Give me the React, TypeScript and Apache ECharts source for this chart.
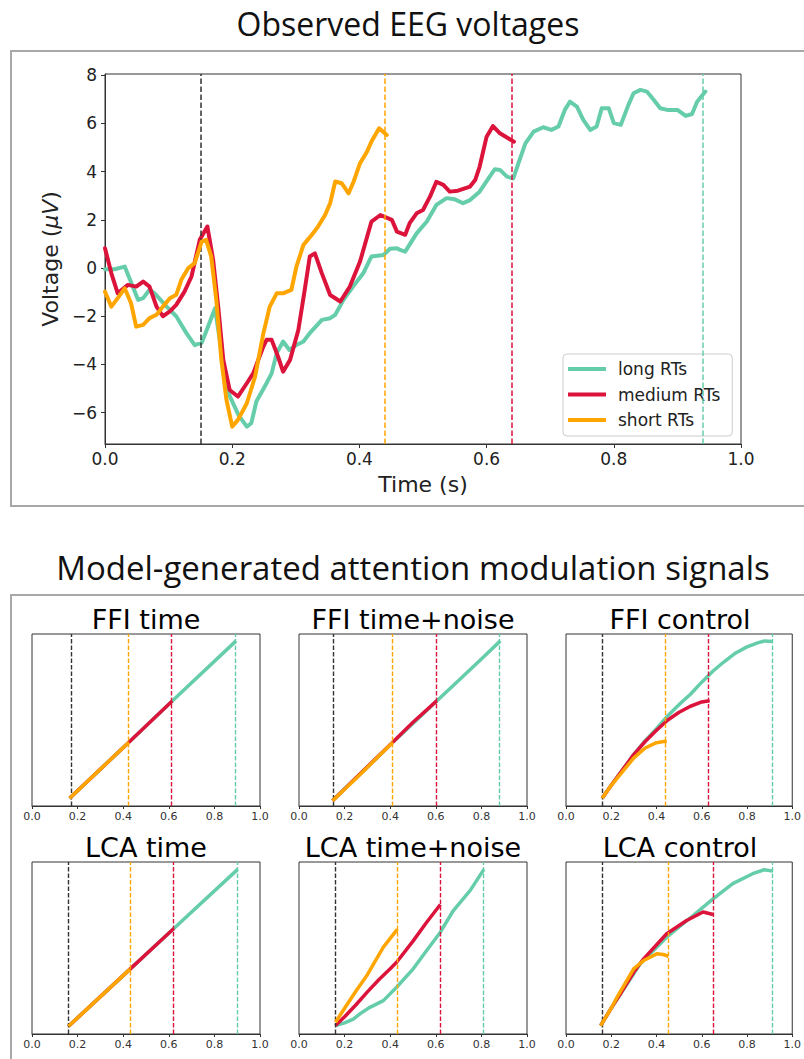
import React, { useEffect, useRef } from "react";
import * as echarts from "echarts";

// ---------- Colours ----------
const TEAL = "#66cdaa";
const RED = "#dc143c";
const ORANGE = "#ffa500";
const DARK = "#333333";

// ---------- Top chart: observed EEG voltages ----------
const seriesNames = ["long RTs", "medium RTs", "short RTs"];
const yTicks = [-6, -4, -2, 0, 2, 4, 6, 8];

const longRT: number[][] = [
  [0, -0.05], [0.015, -0.05], [0.031, 0.06], [0.052, -1.32], [0.06, -1.25], [0.07, -0.9],
  [0.078, -1.05], [0.097, -1.6], [0.112, -2.0], [0.128, -2.7], [0.141, -3.2], [0.152, -3.1],
  [0.16, -2.57], [0.173, -1.67], [0.185, -3.8], [0.196, -5.3], [0.21, -6.1], [0.223, -6.58],
  [0.23, -6.44], [0.238, -5.54], [0.254, -4.78], [0.262, -4.37], [0.27, -3.53], [0.28, -3.05],
  [0.29, -3.4], [0.301, -3.19], [0.312, -3.05], [0.322, -2.7], [0.341, -2.15], [0.354, -2.08],
  [0.362, -1.94], [0.375, -1.32], [0.39, -0.77], [0.406, -0.22], [0.419, 0.48], [0.438, 0.54],
  [0.448, 0.8], [0.459, 0.82], [0.464, 0.75], [0.472, 0.68], [0.49, 1.44], [0.506, 1.93],
  [0.521, 2.62], [0.537, 2.9], [0.55, 2.85], [0.563, 2.69], [0.574, 2.82], [0.589, 3.17],
  [0.603, 3.72], [0.613, 4.1], [0.621, 4.07], [0.632, 3.79], [0.642, 3.72], [0.65, 4.34],
  [0.661, 5.17], [0.674, 5.66], [0.689, 5.84], [0.702, 5.73], [0.713, 5.87], [0.723, 6.56],
  [0.731, 6.9], [0.742, 6.7], [0.752, 6.15], [0.763, 5.73], [0.773, 5.87], [0.781, 6.63],
  [0.792, 6.63], [0.8, 6.01], [0.811, 5.94], [0.823, 6.77], [0.831, 7.25], [0.842, 7.39],
  [0.852, 7.32], [0.863, 6.97], [0.873, 6.63], [0.884, 6.56], [0.9, 6.56], [0.913, 6.31],
  [0.923, 6.39], [0.931, 6.9], [0.944, 7.32],
];

const mediumRT: number[][] = [
  [0, 0.82], [0.01, -0.22], [0.02, -1.05], [0.036, -0.7], [0.049, -0.77], [0.06, -0.56],
  [0.07, -0.77], [0.081, -1.6], [0.091, -2.0], [0.102, -1.8], [0.112, -1.53], [0.125, -0.98],
  [0.136, -0.35], [0.149, 1.17], [0.161, 1.72], [0.17, 0.34], [0.178, -1.6], [0.186, -3.81],
  [0.196, -5.06], [0.209, -5.33], [0.223, -4.78], [0.233, -4.37], [0.249, -3.26], [0.254, -2.98],
  [0.262, -2.98], [0.272, -3.67], [0.28, -4.3], [0.291, -3.81], [0.304, -2.57], [0.314, -0.91],
  [0.322, 0.48], [0.33, 0.61], [0.341, -0.22], [0.354, -1.12], [0.37, -1.39], [0.385, -0.77],
  [0.401, 0.27], [0.419, 1.93], [0.433, 2.2], [0.451, 2.0], [0.459, 1.51], [0.472, 1.38],
  [0.479, 1.86], [0.49, 2.27], [0.5, 2.41], [0.511, 2.96], [0.521, 3.58], [0.532, 3.45],
  [0.542, 3.17], [0.555, 3.21], [0.574, 3.38], [0.582, 3.65], [0.589, 4.2], [0.6, 5.45],
  [0.61, 5.89], [0.621, 5.59], [0.643, 5.24],
];

const shortRT: number[][] = [
  [0, -0.98], [0.01, -1.6], [0.02, -1.25], [0.031, -0.84], [0.041, -1.46], [0.049, -2.43],
  [0.06, -2.36], [0.07, -2.08], [0.081, -1.94], [0.091, -1.6], [0.102, -1.25], [0.112, -1.11],
  [0.12, -0.49], [0.131, 0.0], [0.141, 0.2], [0.152, 1.1], [0.159, 1.17], [0.167, 0.48],
  [0.175, -1.32], [0.183, -3.81], [0.191, -5.47], [0.2, -6.58], [0.209, -6.3], [0.223, -5.61],
  [0.236, -4.5], [0.249, -2.71], [0.259, -1.6], [0.27, -1.05], [0.28, -1.05], [0.293, -0.91],
  [0.301, 0.06], [0.312, 0.96], [0.325, 1.37], [0.335, 1.72], [0.346, 2.2], [0.354, 2.69],
  [0.362, 3.59], [0.372, 3.52], [0.383, 3.1], [0.391, 3.59], [0.401, 4.35], [0.412, 4.83],
  [0.419, 5.25], [0.431, 5.8], [0.443, 5.52],
];

// stimulus onset, short / medium / long RT markers (s)
const eegMarks = [0.155, 0.44, 0.643, 0.939];
const markColors = [DARK, ORANGE, RED, TEAL];

// ---------- Bottom panels: model-generated signals ----------
const panelTitles = [
  "FFI time", "FFI time+noise", "FFI control",
  "LCA time", "LCA time+noise", "LCA control",
];

const ffiTimeLong = [[0.165, 0.045], [0.425, 0.371], [0.615, 0.61], [0.895, 0.96]];
const ffiTimeMedium = [[0.165, 0.045], [0.425, 0.371], [0.615, 0.61]];
const ffiTimeShort = [[0.165, 0.045], [0.425, 0.371]];
const ffiTimeMarks = [0.165, 0.424, 0.613, 0.893];

const ffiNoiseLong = [[0.147, 0.03], [0.2, 0.1], [0.3, 0.225], [0.412, 0.37], [0.5, 0.48],
  [0.604, 0.611], [0.7, 0.73], [0.8, 0.855], [0.883, 0.96]];
const ffiNoiseMedium = [[0.147, 0.03], [0.3, 0.228], [0.412, 0.372], [0.5, 0.487], [0.604, 0.611]];
const ffiNoiseShort = [[0.147, 0.03], [0.25, 0.16], [0.35, 0.29], [0.412, 0.371]];
const ffiNoiseMarks = [0.151, 0.412, 0.6, 0.88];

const ffiControlLong = [[0.16, 0.045], [0.2, 0.12], [0.25, 0.21], [0.3, 0.3], [0.35, 0.38],
  [0.4, 0.45], [0.45, 0.525], [0.5, 0.59], [0.55, 0.65], [0.6, 0.72], [0.65, 0.785],
  [0.7, 0.84], [0.75, 0.89], [0.8, 0.925], [0.85, 0.95], [0.88, 0.96], [0.91, 0.957]];
const ffiControlMedium = [[0.16, 0.045], [0.2, 0.12], [0.25, 0.21], [0.3, 0.3], [0.35, 0.375],
  [0.4, 0.44], [0.45, 0.5], [0.5, 0.545], [0.55, 0.58], [0.6, 0.605], [0.635, 0.612]];
const ffiControlShort = [[0.16, 0.045], [0.2, 0.12], [0.25, 0.2], [0.3, 0.28], [0.35, 0.337],
  [0.4, 0.368], [0.445, 0.378]];
const ffiControlMarks = [0.16, 0.441, 0.631, 0.908];

const lcaTimeLong = [[0.16, 0.045], [0.43, 0.377], [0.622, 0.613], [0.902, 0.957]];
const lcaTimeMedium = [[0.16, 0.045], [0.43, 0.377], [0.622, 0.613]];
const lcaTimeShort = [[0.16, 0.045], [0.43, 0.377]];
const lcaTimeMarks = [0.16, 0.43, 0.622, 0.902];

const lcaNoiseLong = [[0.16, 0.049], [0.2, 0.065], [0.238, 0.087], [0.27, 0.12], [0.311, 0.155],
  [0.37, 0.194], [0.428, 0.272], [0.501, 0.379], [0.56, 0.485], [0.62, 0.592], [0.677, 0.718],
  [0.751, 0.835], [0.811, 0.957]];
const lcaNoiseMedium = [[0.16, 0.049], [0.2, 0.1], [0.25, 0.17], [0.3, 0.245], [0.35, 0.315],
  [0.4, 0.38], [0.428, 0.417], [0.5, 0.54], [0.56, 0.65], [0.62, 0.753]];
const lcaNoiseShort = [[0.16, 0.068], [0.2, 0.15], [0.25, 0.25], [0.3, 0.345], [0.37, 0.505],
  [0.431, 0.608]];
const lcaNoiseMarks = [0.16, 0.428, 0.62, 0.811];

const lcaControlLong = [[0.153, 0.049], [0.2, 0.15], [0.241, 0.233], [0.328, 0.408],
  [0.445, 0.563], [0.562, 0.689], [0.65, 0.786], [0.737, 0.874], [0.825, 0.932],
  [0.876, 0.955], [0.915, 0.947]];
const lcaControlMedium = [[0.153, 0.049], [0.2, 0.15], [0.241, 0.235], [0.3, 0.36],
  [0.343, 0.437], [0.445, 0.583], [0.533, 0.66], [0.606, 0.709], [0.65, 0.695]];
const lcaControlShort = [[0.153, 0.049], [0.2, 0.15], [0.226, 0.214], [0.299, 0.379],
  [0.343, 0.427], [0.401, 0.466], [0.43, 0.462], [0.453, 0.452]];
const lcaControlMarks = [0.156, 0.445, 0.647, 0.912];

const panelData = [
  [ffiTimeLong, ffiTimeMedium, ffiTimeShort, ffiTimeMarks],
  [ffiNoiseLong, ffiNoiseMedium, ffiNoiseShort, ffiNoiseMarks],
  [ffiControlLong, ffiControlMedium, ffiControlShort, ffiControlMarks],
  [lcaTimeLong, lcaTimeMedium, lcaTimeShort, lcaTimeMarks],
  [lcaNoiseLong, lcaNoiseMedium, lcaNoiseShort, lcaNoiseMarks],
  [lcaControlLong, lcaControlMedium, lcaControlShort, lcaControlMarks],
] as any[];

// ---------- Layout ----------
const panelLefts = [32, 299, 566];
const panelTops = [634, 862];
const PANEL_W = 228;
const PANEL_H = 172;

const FONT = "DejaVu Sans";

function buildOption() {
  const grids: any[] = [{ left: 105, top: 74, width: 636, height: 370 }];
  panelTops.forEach((t) => panelLefts.forEach((l) => grids.push({ left: l, top: t, width: PANEL_W, height: PANEL_H })));
  grids.forEach((g) => {
    g.show = true;
    g.borderColor = "#333";
    g.borderWidth = 1;
    g.backgroundColor = "transparent";
    g.containLabel = false;
  });

  const xAxes: any[] = [];
  const yAxes: any[] = [];
  const series: any[] = [];

  // top chart axes
  xAxes.push({
    type: "value", gridIndex: 0, min: 0, max: 1, interval: 0.2,
    name: "Time (s)", nameLocation: "middle", nameGap: 29,
    nameTextStyle: { fontFamily: FONT, fontSize: 22, color: "#222" },
    axisLine: { show: true, onZero: false, lineStyle: { color: "#333" } },
    axisTick: { show: true, inside: false, length: 4, lineStyle: { color: "#333" } },
    axisLabel: { fontFamily: FONT, fontSize: 17, color: "#222", margin: 6, formatter: (v: number) => v.toFixed(1) },
    splitLine: { show: false },
  });
  yAxes.push({
    type: "value", gridIndex: 0, min: -7.3, max: 8.05,
    name: "Voltage ({it|μV})", nameLocation: "middle", nameGap: 43, nameRotate: 90,
    nameTextStyle: {
      fontFamily: FONT, fontSize: 22, color: "#222",
      rich: { it: { fontFamily: FONT, fontSize: 22, fontStyle: "italic", color: "#222" } },
    },
    axisLine: { show: true, onZero: false, lineStyle: { color: "#333" } },
    axisTick: { show: true, inside: false, length: 4, lineStyle: { color: "#333" }, customValues: yTicks },
    axisLabel: {
      fontFamily: FONT, fontSize: 17, color: "#222", margin: 8, customValues: yTicks,
      formatter: (v: number) => (v < 0 ? "\u2212" + Math.abs(v) : String(v)),
    },
    splitLine: { show: false },
  });

  const topData = [longRT, mediumRT, shortRT];
  const topColors = [TEAL, RED, ORANGE];
  topData.forEach((d, i) => {
    series.push({
      type: "line", name: seriesNames[i], xAxisIndex: 0, yAxisIndex: 0, data: d,
      showSymbol: false, symbol: "none", smooth: false,
      lineStyle: { width: 4, color: topColors[i], cap: "round", join: "round" },
      itemStyle: { color: topColors[i] }, z: 3 + i,
    });
  });
  series.push({
    type: "line", name: "eeg-markers", xAxisIndex: 0, yAxisIndex: 0, data: [], z: 2,
    markLine: {
      silent: true, symbol: ["none", "none"], label: { show: false }, animation: false,
      data: eegMarks.map((x, i) => ({ xAxis: x, lineStyle: { color: markColors[i], type: [5.5, 2.5], width: 1.5 } })),
    },
  });

  // panels
  panelData.forEach((pd: any, p: number) => {
    const gi = p + 1;
    xAxes.push({
      type: "value", gridIndex: gi, min: 0, max: 1, interval: 0.2,
      axisLine: { show: true, onZero: false, lineStyle: { color: "#333" } },
      axisTick: { show: true, inside: false, length: 3, lineStyle: { color: "#333" } },
      axisLabel: { fontFamily: FONT, fontSize: 11, color: "#333", margin: 5, formatter: (v: number) => v.toFixed(1) },
      splitLine: { show: false },
    });
    yAxes.push({
      type: "value", gridIndex: gi, min: 0, max: 1,
      axisLine: { show: false }, axisTick: { show: false }, axisLabel: { show: false }, splitLine: { show: false },
    });
    const cols = [TEAL, RED, ORANGE];
    [pd[0], pd[1], pd[2]].forEach((d: number[][], i: number) => {
      series.push({
        type: "line", name: panelTitles[p] + " " + seriesNames[i], xAxisIndex: gi, yAxisIndex: gi, data: d,
        showSymbol: false, symbol: "none",
        lineStyle: { width: 3.5, color: cols[i], cap: "butt", join: "round" },
        itemStyle: { color: cols[i] }, z: 3 + i,
      });
    });
    series.push({
      type: "line", name: panelTitles[p] + " markers", xAxisIndex: gi, yAxisIndex: gi, data: [], z: 2,
      markLine: {
        silent: true, symbol: ["none", "none"], label: { show: false }, animation: false,
        data: (pd[3] as number[]).map((x, i) => ({ xAxis: x, lineStyle: { color: markColors[i], type: [4.5, 2], width: 1.4 } })),
      },
    });
  });

  const graphics: any[] = [
    { type: "rect", shape: { x: 11, y: 51, width: 800, height: 455 }, style: { fill: "none", stroke: "#a8a8a8", lineWidth: 2 }, silent: true },
    { type: "rect", shape: { x: 11, y: 595, width: 800, height: 500 }, style: { fill: "none", stroke: "#a8a8a8", lineWidth: 2 }, silent: true },
    { type: "text", style: { text: "Observed EEG voltages", x: 408, y: 23, textAlign: "center", textVerticalAlign: "middle", font: "32px 'Open Sans'", fill: "#111" } },
    { type: "text", style: { text: "Model-generated attention modulation signals", x: 413, y: 567, textAlign: "center", textVerticalAlign: "middle", font: "33px 'Open Sans'", fill: "#111" } },
  ];
  panelTitles.forEach((t, p) => {
    const col = p % 3;
    const row = Math.floor(p / 3);
    graphics.push({
      type: "text",
      style: {
        text: t, x: panelLefts[col] + PANEL_W / 2, y: panelTops[row] - 15,
        textAlign: "center", textVerticalAlign: "middle", font: "27px 'DejaVu Sans'", fill: "#000",
      },
    });
  });

  return {
    animation: false,
    backgroundColor: "#ffffff",
    grid: grids,
    xAxis: xAxes,
    yAxis: yAxes,
    series,
    graphic: graphics,
    legend: {
      data: seriesNames,
      left: 563, top: 354, orient: "vertical",
      icon: "rect", itemWidth: 38, itemHeight: 4, itemGap: 7.5,
      padding: [6, 12, 7, 5],
      backgroundColor: "rgba(255,255,255,0.85)",
      borderColor: "#cccccc", borderWidth: 1, borderRadius: 4,
      textStyle: { fontFamily: FONT, fontSize: 17, color: "#222", lineHeight: 18, padding: [0, 0, 0, 7] },
      selectedMode: false,
    },
  };
}

export default function App() {
  const ref = useRef<HTMLDivElement>(null);
  useEffect(() => {
    document.body.style.margin = "0";
    if (!ref.current) return;
    const chart = echarts.init(ref.current, undefined, { renderer: "svg" });
    chart.setOption(buildOption() as any);
    return () => chart.dispose();
  }, []);
  return <div ref={ref} style={{ position: "absolute", left: 0, top: 0, width: 804, height: 1059 }} />;
}
